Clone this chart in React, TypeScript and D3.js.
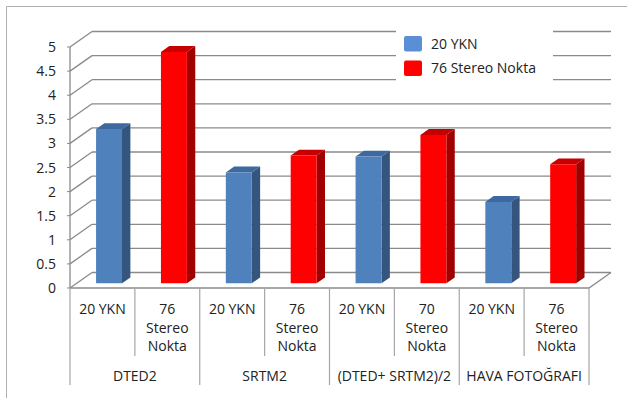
import React from "react";
import * as d3 from "d3";

const groups = ["DTED2", "SRTM2", "(DTED+ SRTM2)/2", "HAVA FOTOĞRAFI"];
const subLabels = [
  ["20 YKN"],
  ["76", "Stereo", "Nokta"],
  ["20 YKN"],
  ["76", "Stereo", "Nokta"],
  ["20 YKN"],
  ["70", "Stereo", "Nokta"],
  ["20 YKN"],
  ["76", "Stereo", "Nokta"],
];
const series = ["20 YKN", "76 Stereo Nokta"];
// one value per sub-category slot, alternating series
const values = [3.2, 4.8, 2.3, 2.65, 2.63, 3.08, 1.69, 2.47];
const seriesOf = [0, 1, 0, 1, 0, 1, 0, 1];
const yTicks = [0, 0.5, 1, 1.5, 2, 2.5, 3, 3.5, 4, 4.5, 5];

const W = 627;
const H = 398;
const DX = 22; // depth offset of back wall
const DY = -15.5;
const Z0 = 0.3;
const Z1 = 0.68;
const font = "'Open Sans', sans-serif";
const grid = "#8a8a8a";

const colors = [
  { front: "#4F81BD", side: "#34557E", top: "#3E69A0", legend: "#5A8FD8" },
  { front: "#FF0000", side: "#A00000", top: "#C60000", legend: "#FF0000" },
];

export default function App() {
  const x = d3
    .scaleBand<number>()
    .domain(d3.range(values.length))
    .range([70, 589]);
  const y = d3.scaleLinear().domain([0, 5]).range([288, 47]);
  const bw = x.bandwidth() * 0.4;

  const p = (px: number, v: number, z: number) =>
    `${px + DX * z},${y(v) + DY * z}`;

  const bars = values.map((v, i) => {
    const c = colors[seriesOf[i]];
    const xl = (x(i) as number) + x.bandwidth() / 2 - bw / 2;
    const xr = xl + bw;
    return (
      <g key={i}>
        <polygon
          points={[p(xr, 0, Z0), p(xr, 0, Z1), p(xr, v, Z1), p(xr, v, Z0)].join(" ")}
          fill={c.side}
        />
        <polygon
          points={[p(xl, v, Z0), p(xr, v, Z0), p(xr, v, Z1), p(xl, v, Z1)].join(" ")}
          fill={c.top}
        />
        <polygon
          points={[p(xl, 0, Z0), p(xr, 0, Z0), p(xr, v, Z0), p(xl, v, Z0)].join(" ")}
          fill={c.front}
        />
      </g>
    );
  });

  const x0 = 70;
  const x1 = 589;
  const slots = d3.range(values.length + 1).map((i) =>
    i < values.length ? (x(i) as number) : x1
  );

  return (
    <div style={{ position: "fixed", left: 0, top: 0 }}>
      <svg width={W} height={H} style={{ display: "block", background: "#fff" }}>
        {/* chart border */}
        <path d={`M6.5,${H} V6.5 H${W}`} fill="none" stroke="#b0b0b0" />

        {/* back wall gridlines and side diagonals */}
        {yTicks.map((t) => (
          <g key={t}>
            <line
              x1={x0 + DX}
              x2={x1 + DX}
              y1={y(t) + DY}
              y2={y(t) + DY}
              stroke={grid}
              strokeWidth={1.3}
            />
            <line
              x1={x0}
              x2={x0 + DX}
              y1={y(t)}
              y2={y(t) + DY}
              stroke={grid}
              strokeWidth={1.3}
            />
            <line x1={x0 - 3} x2={x0} y1={y(t)} y2={y(t)} stroke={grid} />
            <text
              x={56}
              y={y(t) + 5}
              textAnchor="end"
              fontFamily={font}
              fontSize={14}
              fill="#222"
            >
              {t}
            </text>
          </g>
        ))}

        {/* floor */}
        <path
          d={`M${x0},${y(0)} H${x1} L${x1 + DX},${y(0) + DY}`}
          fill="none"
          stroke={grid}
          strokeWidth={1.3}
        />
        {/* value axis */}
        <line x1={x0} x2={x0} y1={y(0)} y2={y(5)} stroke={grid} strokeWidth={1.3} />

        {bars}

        {/* category axis dividers */}
        {slots.map((sx, i) => (
          <line
            key={i}
            x1={sx}
            x2={sx}
            y1={y(0)}
            y2={i % 2 === 0 ? 385 : 356}
            stroke="#a6a6a6"
            strokeWidth={1.2}
          />
        ))}

        {subLabels.map((lines, i) => (
          <text
            key={i}
            x={(x(i) as number) + x.bandwidth() / 2}
            y={314}
            textAnchor="middle"
            fontFamily={font}
            fontSize={14}
            fill="#222"
          >
            {lines.map((l, j) => (
              <tspan key={j} x={(x(i) as number) + x.bandwidth() / 2} dy={j === 0 ? 0 : 18.5}>
                {l}
              </tspan>
            ))}
          </text>
        ))}

        {groups.map((g, i) => (
          <text
            key={g}
            x={(slots[i * 2] + slots[i * 2 + 2]) / 2}
            y={381}
            textAnchor="middle"
            fontFamily={font}
            fontSize={14}
            fill="#222"
          >
            {g}
          </text>
        ))}

        {/* legend */}
        <rect x={396} y={24} width={157} height={64} fill="#fff" />
        {series.map((s, i) => (
          <g key={s} transform={`translate(404,${36 + i * 24.5})`}>
            <rect width={18} height={15.5} rx={2} fill={colors[i].legend} />
            <text x={27} y={12.5} fontFamily={font} fontSize={14} fill="#222">
              {s}
            </text>
          </g>
        ))}
      </svg>
    </div>
  );
}
